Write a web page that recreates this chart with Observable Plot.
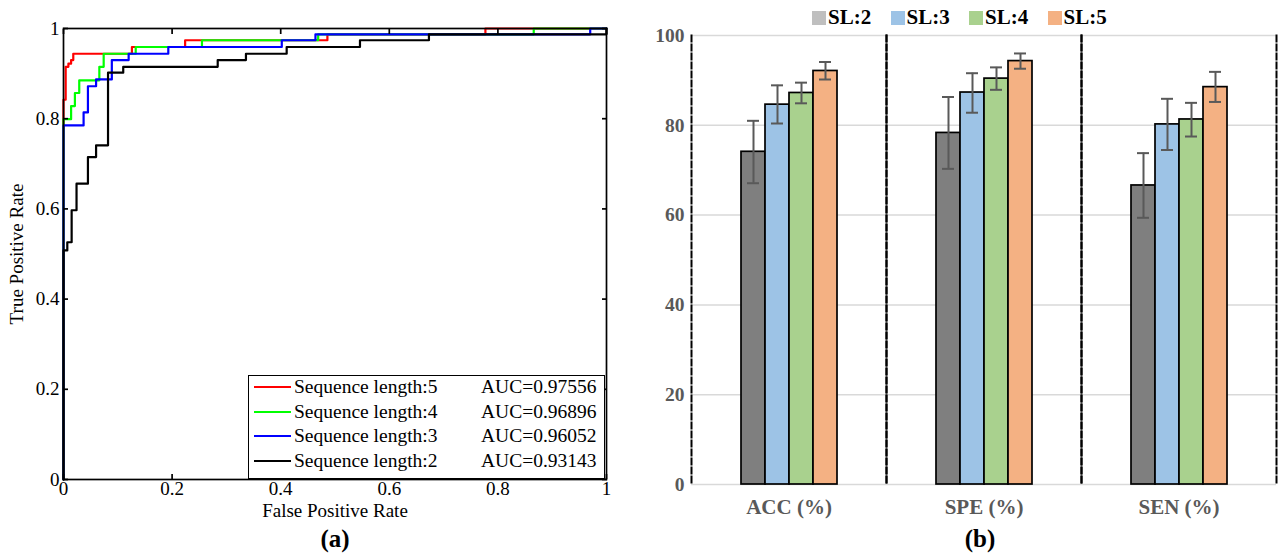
<!DOCTYPE html>
<html><head><meta charset="utf-8">
<script src="https://cdn.jsdelivr.net/npm/d3@7"></script>
<script src="https://cdn.jsdelivr.net/npm/@observablehq/plot@0.6"></script>
<style>
body{margin:0;background:#fff;}
#wrap{position:relative;width:1280px;height:555px;overflow:hidden;font-family:"Liberation Serif","Times New Roman",serif;}
#wrap svg{position:absolute;top:0;}
.abs{position:absolute;white-space:nowrap;}
</style></head><body><div id="wrap"></div>
<script>
// ---------- Panel (a): ROC curves ----------
const rocSeries = ["Sequence length:5", "Sequence length:4", "Sequence length:3", "Sequence length:2"];
const rocColors = ["#ff0000", "#00ff00", "#0000ff", "#000000"];
const aucValues = ["AUC=0.97556", "AUC=0.96896", "AUC=0.96052", "AUC=0.93143"];
const rocTicks = [0, 0.2, 0.4, 0.6, 0.8, 1];

const fprSL5 = [0, 0, 0.004, 0.009, 0.014, 0.018, 0.126, 0.224, 0.486, 0.777, 1];
const tprSL5 = [0, 0.842, 0.915, 0.922, 0.930, 0.944, 0.959, 0.974, 0.987, 1, 1];
const fprSL4 = [0, 0, 0.014, 0.021, 0.029, 0.066, 0.074, 0.133, 0.255, 0.469, 0.866, 1];
const tprSL4 = [0, 0.799, 0.828, 0.857, 0.885, 0.915, 0.944, 0.959, 0.974, 0.987, 1, 1];
const fprSL3 = [0, 0, 0.037, 0.045, 0.060, 0.089, 0.120, 0.193, 0.402, 0.464, 0.970, 1];
const tprSL3 = [0, 0.785, 0.814, 0.872, 0.887, 0.930, 0.944, 0.959, 0.974, 0.987, 1, 1];
const fprSL2 = [0, 0, 0.007, 0.015, 0.024, 0.045, 0.060, 0.082, 0.110, 0.284, 0.336, 0.411, 0.546, 0.673, 1];
const tprSL2 = [0, 0.508, 0.526, 0.597, 0.656, 0.715, 0.741, 0.902, 0.915, 0.930, 0.944, 0.959, 0.974, 0.987, 1];

// ---------- Panel (b): bar chart ----------
const metrics = ["ACC (%)", "SPE (%)", "SEN (%)"];
const slLabels = ["SL:2", "SL:3", "SL:4", "SL:5"];
const barColors = ["#7f7f7f", "#9dc3e6", "#a9d18e", "#f4b183"];
const legendColors = ["#bfbfbf", "#9dc3e6", "#a9d18e", "#f4b183"];
const barTicks = [0, 20, 40, 60, 80, 100];
const meanSL2 = [74.1, 78.3, 66.6], loSL2 = [67.1, 70.3, 59.4], hiSL2 = [81.0, 86.3, 73.8];
const meanSL3 = [84.6, 87.3, 80.2], loSL3 = [80.4, 82.8, 74.5], hiSL3 = [88.9, 91.6, 85.9];
const meanSL4 = [87.2, 90.4, 81.3], loSL4 = [84.9, 87.9, 77.5], hiSL4 = [89.5, 92.9, 85.0];
const meanSL5 = [92.1, 94.3, 88.5], loSL5 = [90.2, 92.6, 85.2], hiSL5 = [94.1, 96.0, 91.9];

const serif = "Liberation Serif, Times New Roman, serif";
const wrap = document.getElementById("wrap");

// build ROC table
const rocPairs = [[fprSL5, tprSL5], [fprSL4, tprSL4], [fprSL3, tprSL3], [fprSL2, tprSL2]];
const rocRows = [];
rocPairs.forEach(([f, t], i) => f.forEach((x, j) => rocRows.push({series: rocSeries[i], fpr: x, tpr: t[j]})));

const left = Plot.plot({
  width: 640, height: 522,
  marginLeft: 63, marginRight: 34, marginTop: 28, marginBottom: 43,
  style: {fontFamily: serif, fontSize: "18.5px", background: "transparent", color: "#000"},
  x: {domain: [0, 1]},
  y: {domain: [0, 1]},
  color: {domain: rocSeries, range: rocColors},
  marks: [
    Plot.line(rocRows, {x: "fpr", y: "tpr", z: "series", stroke: "series", strokeWidth: 2.2, curve: "step-after"}),
    Plot.frame({stroke: "#000", strokeWidth: 1.7}),
    Plot.axisX({ticks: rocTicks, tickFormat: d => String(d), tickSize: -5, tickPadding: 7, strokeWidth: 1.7, fontSize: 19,
      label: "False Positive Rate", labelAnchor: "center", labelArrow: "none", labelOffset: 37}),
    Plot.axisX({anchor: "top", ticks: rocTicks, tickFormat: () => "", tickSize: -5, strokeWidth: 1.7, label: null}),
    Plot.axisY({ticks: rocTicks, tickFormat: d => String(d), tickSize: -5, tickPadding: 9, strokeWidth: 1.7, fontSize: 19,
      label: "True Positive Rate", labelAnchor: "center", labelArrow: "none", labelOffset: 54}),
    Plot.axisY({anchor: "right", ticks: rocTicks, tickFormat: () => "", tickSize: -5, strokeWidth: 1.7, label: null})
  ]
});
left.style.left = "0px";
wrap.appendChild(left);

// left legend box (HTML)
const lbox = document.createElement("div");
lbox.className = "abs";
lbox.style.cssText = "left:248px;top:375px;width:355px;height:102px;border:1.7px solid #000;background:#fff;";
wrap.appendChild(lbox);
rocSeries.forEach((s, i) => {
  const y = 387 + i * 24.6;
  const ln = document.createElement("div");
  ln.className = "abs";
  ln.style.cssText = `left:254px;top:${y - 1}px;width:37px;height:2.3px;background:${rocColors[i]};`;
  wrap.appendChild(ln);
  const t1 = document.createElement("div");
  t1.className = "abs";
  t1.style.cssText = `left:294px;top:${y - 12}px;font-size:19.5px;line-height:24px;`;
  t1.textContent = s;
  wrap.appendChild(t1);
  const t2 = document.createElement("div");
  t2.className = "abs";
  t2.style.cssText = `left:481px;top:${y - 12}px;font-size:19.5px;line-height:24px;`;
  t2.textContent = aucValues[i];
  wrap.appendChild(t2);
});

// bar table
const meanS = [meanSL2, meanSL3, meanSL4, meanSL5];
const loS = [loSL2, loSL3, loSL4, loSL5];
const hiS = [hiSL2, hiSL3, hiSL4, hiSL5];
const barRows = [];
metrics.forEach((m, j) => slLabels.forEach((s, i) => barRows.push({metric: m, sl: s, mean: meanS[i][j], lo: loS[i][j], hi: hiS[i][j]})));

const right = Plot.plot({
  width: 640, height: 522,
  marginLeft: 50, marginRight: 3, marginTop: 35, marginBottom: 38,
  style: {fontFamily: serif, fontSize: "20px", background: "transparent"},
  fx: {domain: metrics, padding: 0, label: null, axis: null},
  x: {domain: slLabels, paddingInner: 0, paddingOuter: 2, axis: null},
  y: {domain: [0, 100]},
  color: {domain: slLabels, range: barColors},
  marks: [
    Plot.gridY(barTicks, {stroke: "#d9d9d9", strokeOpacity: 1, strokeWidth: 1.5}),
    Plot.frame({anchor: "left", stroke: "#000", strokeDasharray: "6,3", strokeWidth: 2}),
    Plot.frame({anchor: "right", stroke: "#000", strokeDasharray: "6,3", strokeWidth: 2}),
    Plot.barY(barRows, {fx: "metric", x: "sl", y: "mean", fill: "sl", stroke: "#000", strokeWidth: 1.7}),
    Plot.ruleX(barRows, {fx: "metric", x: "sl", y1: "lo", y2: "hi", stroke: "#595959", strokeWidth: 2}),
    Plot.tickY(barRows, {fx: "metric", x: "sl", y: "lo", stroke: "#595959", strokeWidth: 2, inset: 6}),
    Plot.tickY(barRows, {fx: "metric", x: "sl", y: "hi", stroke: "#595959", strokeWidth: 2, inset: 6}),
    Plot.axisY({ticks: barTicks, tickSize: 0, tickPadding: 7, fontSize: 19.5, fontWeight: "bold", color: "#595959", label: null}),
    Plot.axisFx({anchor: "bottom", tickSize: 0, tickPadding: 15, fontSize: 21, fontWeight: "bold", color: "#595959", label: null})
  ]
});
right.style.left = "640px";
wrap.appendChild(right);

// right legend (HTML)
slLabels.forEach((s, i) => {
  const x0 = 812 + i * 78.5;
  const sw = document.createElement("div");
  sw.className = "abs";
  sw.style.cssText = `left:${x0}px;top:11px;width:14px;height:14px;background:${legendColors[i]};`;
  wrap.appendChild(sw);
  const t = document.createElement("div");
  t.className = "abs";
  t.style.cssText = `left:${x0 + 16}px;top:4px;font-size:21px;line-height:26px;font-weight:bold;color:#000;`;
  t.textContent = s;
  wrap.appendChild(t);
});

// captions
[["(a)", 335], ["(b)", 980]].forEach(([txt, cx]) => {
  const c = document.createElement("div");
  c.className = "abs";
  c.style.cssText = `left:${cx - 40}px;width:80px;text-align:center;top:525px;font-size:25px;line-height:28px;font-weight:bold;`;
  c.textContent = txt;
  wrap.appendChild(c);
});
</script></body></html>
